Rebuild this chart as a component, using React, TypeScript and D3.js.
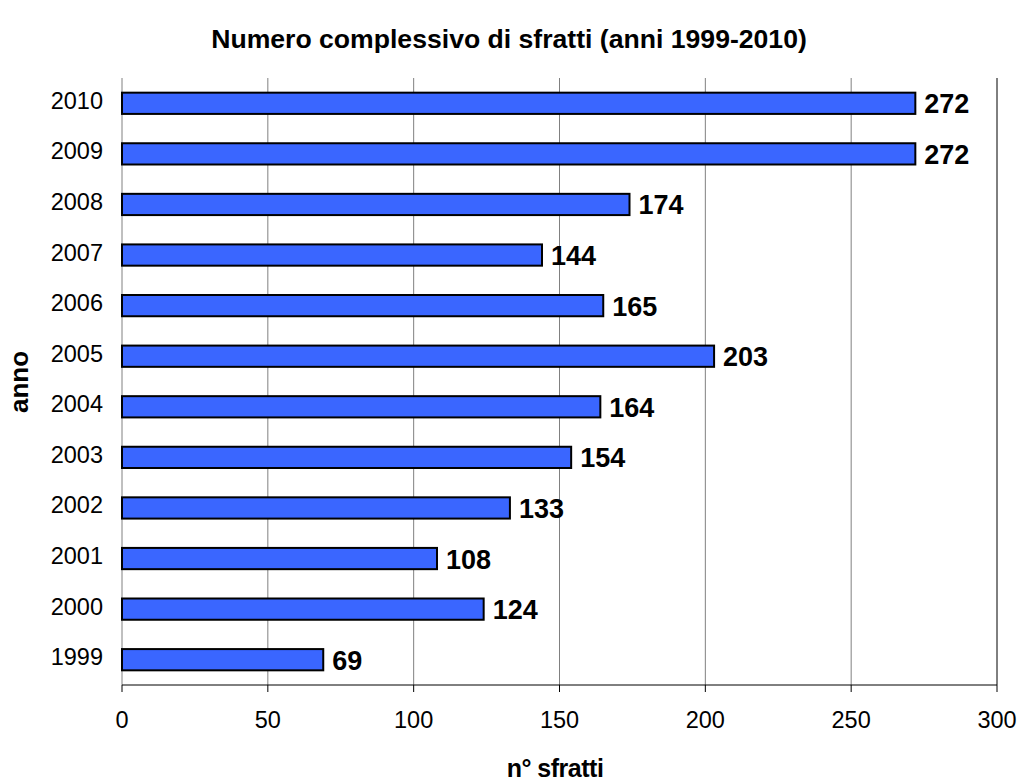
import React from "react";
import * as d3 from "d3";

const years = ["1999","2000","2001","2002","2003","2004","2005","2006","2007","2008","2009","2010"];
const values = [69,124,108,133,154,164,203,165,144,174,272,272];
const xTicks = [0,50,100,150,200,250,300];

export default function App() {
  const W = 1020, H = 782;
  const left = 122, right = 997, top = 78, bottom = 685;
  const x = d3.scaleLinear().domain([0, 300]).range([left, right]);
  const y = d3.scaleBand<string>().domain([...years].reverse()).range([top, bottom]).paddingInner(0.58).paddingOuter(0.29);
  const font = "Arial, 'Liberation Sans', sans-serif";
  return (
    <svg width={W} height={H} style={{ position: "absolute", left: 0, top: 0 }} fontFamily={font}>
      <rect width={W} height={H} fill="#fff" />
      <text x={509} y={48} textAnchor="middle" fontWeight="bold" fontSize={26.6}>Numero complessivo di sfratti (anni 1999-2010)</text>
      {xTicks.filter(t => t > 0).map(t => (
        <line key={t} x1={x(t)} x2={x(t)} y1={top} y2={bottom} stroke={t === 300 ? "#000" : "#808080"} strokeWidth={1} />
      ))}
      <line x1={left} x2={left} y1={top} y2={bottom} stroke="#808080" />
      <line x1={left} x2={right} y1={bottom} y2={bottom} stroke="#000" />
      {xTicks.map(t => (
        <g key={t}>
          <line x1={x(t)} x2={x(t)} y1={bottom} y2={bottom + 7} stroke="#000" />
          <text x={x(t)} y={728} textAnchor="middle" fontSize={23.5}>{t}</text>
        </g>
      ))}
      {years.map((yr, i) => {
        const yy = y(yr)!;
        const bh = y.bandwidth();
        return (
          <g key={yr}>
            <rect x={x(0)} y={yy} width={x(values[i]) - x(0)} height={bh} fill="#3A66FF" stroke="#000" strokeWidth={2} />
            <text x={103} y={yy + bh / 2 + 5.5} textAnchor="end" fontSize={23.5}>{yr}</text>
            <text x={x(values[i]) + 9} y={yy + bh / 2 + 10} fontSize={27} fontWeight="bold">{values[i]}</text>
          </g>
        );
      })}
      <text transform="translate(27.5,382) rotate(-90)" textAnchor="middle" fontWeight="bold" fontSize={26}>anno</text>
      <text x={555} y={777} textAnchor="middle" fontWeight="bold" fontSize={25} letterSpacing={-0.5}>n° sfratti</text>
    </svg>
  );
}
